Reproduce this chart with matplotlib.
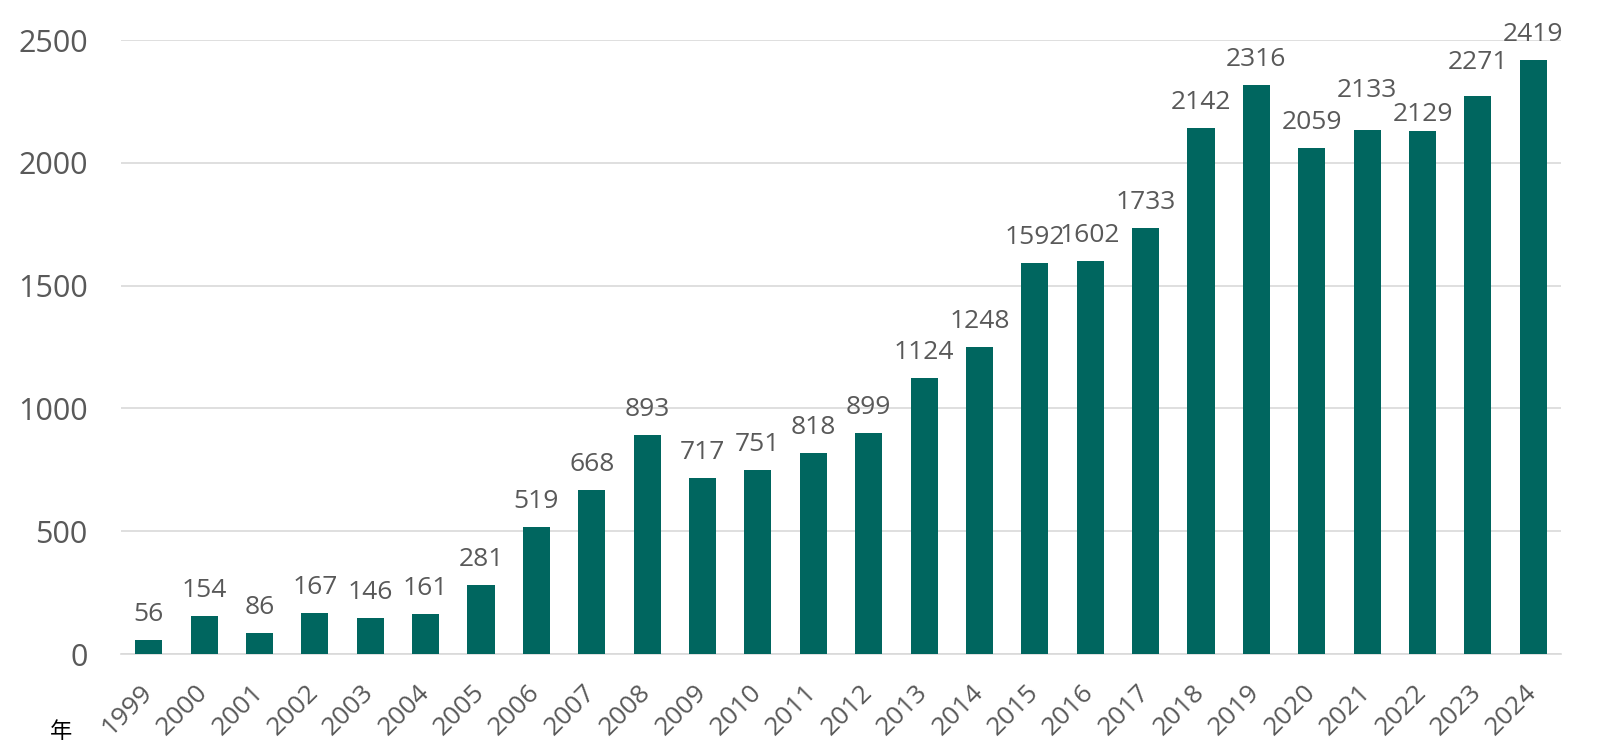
import matplotlib
matplotlib.use("Agg")
import matplotlib.pyplot as plt
import numpy as np

years = [str(y) for y in range(1999, 2025)]
values = [56, 154, 86, 167, 146, 161, 281, 519, 668, 893, 717, 751, 818, 899,
          1124, 1248, 1592, 1602, 1733, 2142, 2316, 2059, 2133, 2129, 2271, 2419]
yticks = [0, 500, 1000, 1500, 2000, 2500]
xlabel_text = "年"

bar_color = "#00665F"
text_color = "#595959"
grid_color = "#D9D9D9"

# label collision adjustments (extra pixels above default gap), as in the source chart
label_shift_px = {"2021": 14, "2022": -9, "2023": 8}

plt.rcParams['font.family'] = ['Open Sans', 'DejaVu Sans']

DPI = 100
fig = plt.figure(figsize=(16.17, 7.54), dpi=DPI)
ax = fig.add_axes([121/1617, 1 - 654/754, (1561-121)/1617, (654-40)/754])

x = np.arange(len(years))
ax.bar(x, values, width=0.49, color=bar_color, zorder=3)

px2pt = 72 / DPI
for xi, yr, v in zip(x, years, values):
    gap = 19 + label_shift_px.get(yr, 0)
    ax.annotate(str(v), (xi, v), xytext=(0, gap * px2pt), textcoords="offset points",
                ha="center", va="baseline", fontsize=19, color=text_color,
                annotation_clip=False)

ax.set_xlim(-0.5, len(years) - 0.5)
ax.set_ylim(0, 2500)
ax.set_yticks(yticks)
ax.set_yticklabels([str(t) for t in yticks], fontsize=22, color=text_color)
ax.set_xticks(x)
ax.set_xticklabels(years, rotation=45, ha="right", va="center", rotation_mode="anchor",
                   fontsize=19, color=text_color)
ax.tick_params(axis="y", length=0, pad=24)
ax.tick_params(axis="x", length=0, pad=25)

ax.yaxis.grid(True, color=grid_color, linewidth=1.2, zorder=0)
for s in ["top", "right", "left"]:
    ax.spines[s].set_visible(False)
ax.spines["bottom"].set_color(grid_color)
ax.spines["bottom"].set_linewidth(1.2)

fig.text(61/1617, 1 - 732/754, xlabel_text, fontsize=16, color="black",
         family=["Noto Sans CJK SC", "DejaVu Sans"], ha="center", va="center")

fig.savefig("out.png", dpi=DPI, facecolor="white")
